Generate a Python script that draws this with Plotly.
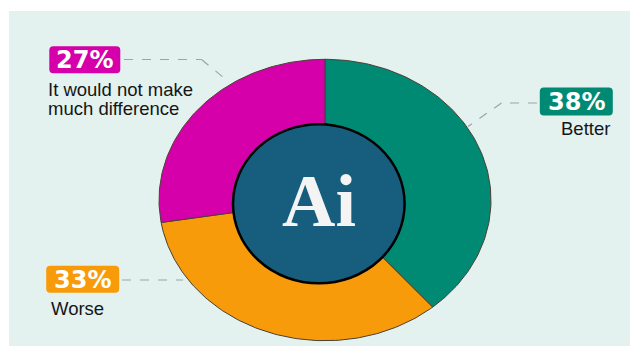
import numpy as np
import plotly.graph_objects as go

# ---- data ----
categories = ["Better", "Worse", "It would not make much difference"]
values = [38, 33, 27]
pct_labels = ["38%", "33%", "27%"]
sub_labels = ["Better", "Worse", "It would not make<br>much difference"]
colors = ["#008A74", "#F89B0B", "#D500AA"]
center_text = "Ai"

# ---- layout geometry (pixel-like axis units) ----
W, H = 630, 347
cx, cy, rx, ry = 325, 200, 166, 140.7

fig = go.Figure()

total = sum(values)
start = 0.0
for cat, v, col in zip(categories, values, colors):
    a0 = start / total * 2 * np.pi
    a1 = (start + v) / total * 2 * np.pi
    th = np.linspace(a0, a1, 120)
    xs = np.concatenate([[cx], cx + rx * np.sin(th), [cx]])
    ys = np.concatenate([[cy], cy - ry * np.cos(th), [cy]])
    fig.add_trace(go.Scatter(x=xs, y=ys, mode="lines", fill="toself",
                             fillcolor=col, line=dict(color="#4a3f35", width=1),
                             name=cat, hoverinfo="name", showlegend=False))
    start += v


def rounded_rect(x0, y0, x1, y1, r):
    return (f"M {x0+r},{y0} L {x1-r},{y0} Q {x1},{y0} {x1},{y0+r} "
            f"L {x1},{y1-r} Q {x1},{y1} {x1-r},{y1} L {x0+r},{y1} "
            f"Q {x0},{y1} {x0},{y1-r} L {x0},{y0+r} Q {x0},{y0} {x0+r},{y0} Z")


shapes = [
    dict(type="rect", xref="x", yref="y", x0=9, x1=630, y0=11, y1=346,
         fillcolor="#E3F1EF", line=dict(width=0), layer="below"),
    dict(type="circle", xref="x", yref="y", x0=233, x1=404.6, y0=124.3, y1=283.3,
         fillcolor="#175E7E", line=dict(color="#000000", width=2.5), layer="above"),
]
dash = dict(color="#9aa6a4", width=1.2, dash="dash")
leaders = [
    [(537, 103), (501.5, 103), (468, 126.5)],
    [(122, 280), (183, 280)],
    [(124, 59.5), (201.5, 59.5), (229, 82)],
]
for pts in leaders:
    for (x0, y0), (x1, y1) in zip(pts[:-1], pts[1:]):
        shapes.append(dict(type="line", xref="x", yref="y", x0=x0, y0=y0, x1=x1, y1=y1,
                           line=dash, layer="below"))

box_pos = [(576.3, 101.5, 73, 28), (82.7, 279.3, 73, 27), (84.8, 59.7, 71, 27)]
annotations = []
for (bx, by, bw, bh), t, col in zip(box_pos, pct_labels, colors):
    shapes.append(dict(type="path", xref="x", yref="y",
                       path=rounded_rect(bx - bw / 2, by - bh / 2, bx + bw / 2, by + bh / 2, 4),
                       fillcolor=col, line=dict(width=0), layer="above"))
    annotations.append(dict(x=bx, y=by + 0.5, xref="x", yref="y", text=f"<b>{t}</b>",
                            showarrow=False, xanchor="center", yanchor="middle",
                            font=dict(family="DejaVu Sans", size=24, color="white")))

txt_font = dict(family="Liberation Sans, Arial", size=18.5, color="#151515")
annotations.append(dict(x=612, y=128.3, xref="x", yref="y", text=sub_labels[0],
                        showarrow=False, xanchor="right", yanchor="middle", font=txt_font))
annotations.append(dict(x=49, y=308, xref="x", yref="y", text=sub_labels[1],
                        showarrow=False, xanchor="left", yanchor="middle", font=txt_font))
for i, line in enumerate(sub_labels[2].split("<br>")):
    annotations.append(dict(x=46, y=89 + 19 * i, xref="x", yref="y", text=line,
                            showarrow=False, xanchor="left", yanchor="middle", font=txt_font))

annotations.append(dict(x=318.5, y=201, xref="x", yref="y", text=f"<b>{center_text}</b>",
                        showarrow=False, xanchor="center", yanchor="middle",
                        font=dict(family="Liberation Serif, Times New Roman", size=74,
                                  color="#F4F4F4")))

fig.update_layout(
    width=W, height=H, margin=dict(l=0, r=0, t=0, b=0),
    paper_bgcolor="white", plot_bgcolor="rgba(0,0,0,0)",
    xaxis=dict(range=[0, W], visible=False, fixedrange=True),
    yaxis=dict(range=[H, 0], visible=False, fixedrange=True),
    shapes=shapes, annotations=annotations, showlegend=False,
)

fig.write_html("out.html")
